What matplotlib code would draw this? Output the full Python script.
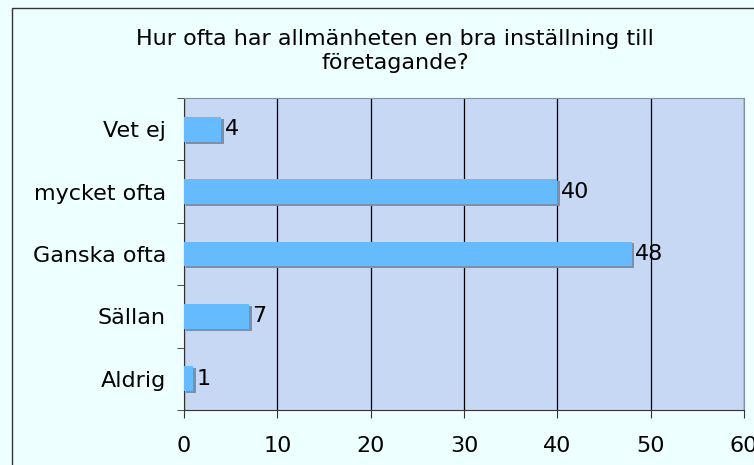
import matplotlib
matplotlib.use("Agg")
import matplotlib.pyplot as plt
from matplotlib.patches import Rectangle

categories = ["Aldrig", "Sällan", "Ganska ofta", "mycket ofta", "Vet ej"]
values = [1, 7, 48, 40, 4]
xticks = [0, 10, 20, 30, 40, 50, 60]
title = "Hur ofta har allmänheten en bra inställning till\nföretagande?"

W, H = 754, 465
FS = 16
fig = plt.figure(figsize=(W / 100, H / 100), dpi=100)
fig.patch.set_facecolor("#EEFFFF")
fig.patches.append(Rectangle((12 / W, -0.1), 1.2, 1 - 8 / H + 0.1, transform=fig.transFigure,
                             fill=False, edgecolor="#333333", linewidth=1.0))

ax = fig.add_axes([184 / W, 1 - 410 / H, (744 - 184) / W, (410 - 98) / H])
ax.set_facecolor("#C6D8F4")
ypos = list(range(len(categories)))
# shadow
ax.barh([y - 0.03 for y in ypos], values, height=0.4, left=0.25, color="#7F8FA6", zorder=2)
ax.barh(ypos, values, height=0.4, color="#66BBFF", zorder=3)
for y, v in zip(ypos, values):
    ax.text(v + 0.35, y, str(v), va="center", ha="left", fontsize=FS, zorder=4)

ax.set_xlim(0, 60)
ax.set_ylim(-0.5, len(categories) - 0.5)
ax.set_xticks(xticks)
ax.set_xticklabels([str(t) for t in xticks], fontsize=FS)
ax.set_yticks(ypos)
ax.set_yticklabels(categories, fontsize=FS)
ax.set_yticks([y + 0.5 for y in range(-1, len(categories))], minor=True)
ax.tick_params(axis="y", which="major", length=0, pad=13)
ax.tick_params(axis="y", which="minor", length=5, color="#333333")
ax.tick_params(axis="x", length=6, pad=13, color="#333333")
ax.grid(axis="x", color="black", linewidth=0.9, zorder=1)
ax.set_axisbelow(True)
for s in ["top", "right"]:
    ax.spines[s].set_color("#8090A0")
ax.spines["left"].set_color("#333333")
ax.spines["bottom"].set_color("#333333")

fig.text(395 / W, 1 - 51 / H, title, ha="center", va="center", fontsize=FS, linespacing=1.25)

fig.savefig("out.png", dpi=100, facecolor=fig.get_facecolor())
